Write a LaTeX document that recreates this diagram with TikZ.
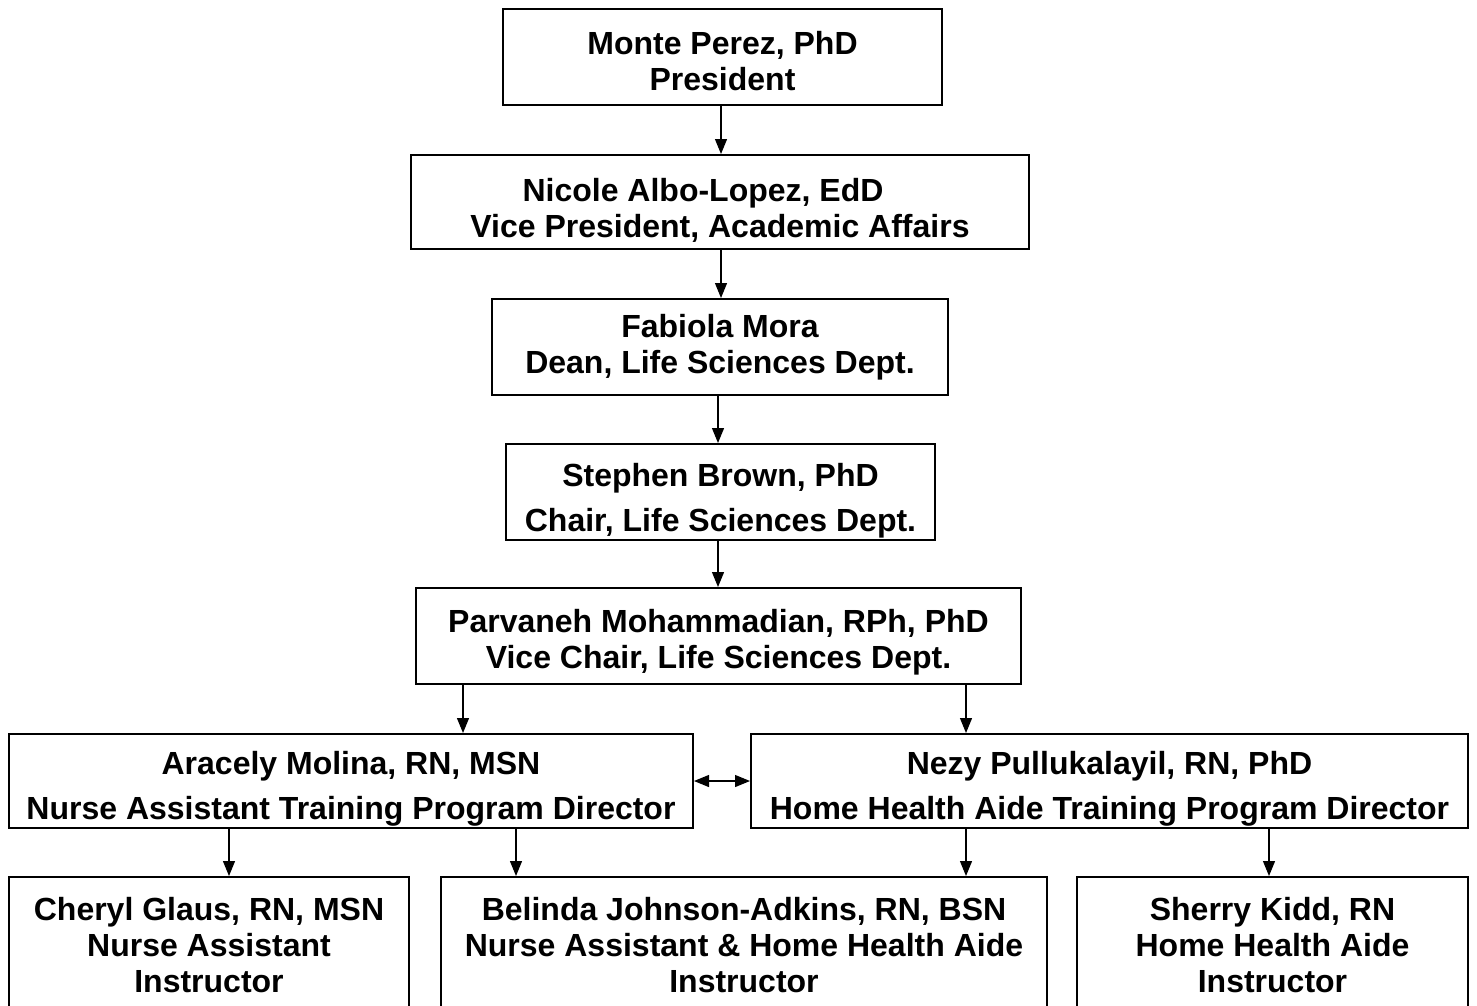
\documentclass[tikz,border=0pt]{standalone}
\usepackage{fontspec}
\setmainfont{Liberation Sans}
\usetikzlibrary{arrows.meta}
\tikzset{
  box/.style={draw, line width=2pt, rectangle, inner sep=0pt},
  txt/.style={inner sep=0pt, align=center, font=\fontsize{32}{36}\selectfont\bfseries},
  arr/.style={line width=1.2pt, -{Triangle[length=15pt,width=12pt]}},
  darr/.style={line width=1.2pt, {Triangle[length=15pt,width=12pt]}-{Triangle[length=15pt,width=12pt]}}
}
\begin{document}
\begin{tikzpicture}[x=1pt,y=-1pt]
\useasboundingbox (0,0) rectangle (1477,1005);
\node[box, minimum width=439pt, minimum height=96pt] (monte) at (722.5,57) {};
\node[txt] (montet) at ([yshift=-4pt]monte.center) {Monte Perez, PhD\\President};
\node[box, minimum width=618pt, minimum height=94pt] (nicole) at (720,202) {};
\node[txt] (nicolet) at ([yshift=-8pt]nicole.center) {Nicole Albo-Lopez, EdD\rule{34pt}{0pt}\\Vice President, Academic Affairs};
\node[box, minimum width=456pt, minimum height=96pt] (fabiola) at (720,347) {};
\node[txt] (fabiolat) at (fabiola.center) {Fabiola Mora\\Dean, Life Sciences Dept.};
\node[box, minimum width=429pt, minimum height=96pt] (stephen) at (720.5,492) {};
\node[txt] (stephent) at ([yshift=-9pt]stephen.center) {Stephen Brown, PhD\\[9pt]Chair, Life Sciences Dept.};
\node[box, minimum width=605pt, minimum height=96pt] (parv) at (718.5,636) {};
\node[txt] (parvt) at ([yshift=-6pt]parv.center) {Parvaneh Mohammadian, RPh, PhD\\Vice Chair, Life Sciences Dept.};
\node[box, minimum width=684pt, minimum height=94pt] (aracely) at (351,781) {};
\node[txt] (aracelyt) at ([yshift=-8pt]aracely.center) {Aracely Molina, RN, MSN\\[9pt]Nurse Assistant Training Program Director};
\node[box, minimum width=717pt, minimum height=94pt] (nezy) at (1109.5,781) {};
\node[txt] (nezyt) at ([yshift=-8pt]nezy.center) {Nezy Pullukalayil, RN, PhD\\[9pt]Home Health Aide Training Program Director};
\node[box, minimum width=400pt, minimum height=132pt] (cheryl) at (209,943) {};
\node[txt] (cherylt) at ([yshift=-2pt]cheryl.center) {Cheryl Glaus, RN, MSN\\Nurse Assistant\\Instructor};
\node[box, minimum width=606pt, minimum height=132pt] (belinda) at (744,943) {};
\node[txt] (belindat) at ([yshift=-2pt]belinda.center) {Belinda Johnson-Adkins, RN, BSN\\Nurse Assistant \& Home Health Aide\\Instructor};
\node[box, minimum width=391pt, minimum height=132pt] (sherry) at (1272.5,943) {};
\node[txt] (sherryt) at ([yshift=-2pt]sherry.center) {Sherry Kidd, RN\\Home Health Aide\\Instructor};
\coordinate (x1) at (721,0);
\coordinate (x2) at (718,0);
\coordinate (xa) at (463,0);
\coordinate (xb) at (966,0);
\coordinate (xc) at (229,0);
\coordinate (xd) at (516,0);
\coordinate (xe) at (1269,0);
\draw[arr] (monte.south -| x1) -- (nicole.north -| x1);
\draw[arr] (nicole.south -| x1) -- (fabiola.north -| x1);
\draw[arr] (fabiola.south -| x2) -- (stephen.north -| x2);
\draw[arr] (stephen.south -| x2) -- (parv.north -| x2);
\draw[arr] (parv.south -| xa) -- (aracely.north -| xa);
\draw[arr] (parv.south -| xb) -- (nezy.north -| xb);
\draw[darr] (aracely.east) -- (nezy.west);
\draw[arr] (aracely.south -| xc) -- (cheryl.north -| xc);
\draw[arr] (aracely.south -| xd) -- (belinda.north -| xd);
\draw[arr] (nezy.south -| xb) -- (belinda.north -| xb);
\draw[arr] (nezy.south -| xe) -- (sherry.north -| xe);
\end{tikzpicture}
\end{document}
